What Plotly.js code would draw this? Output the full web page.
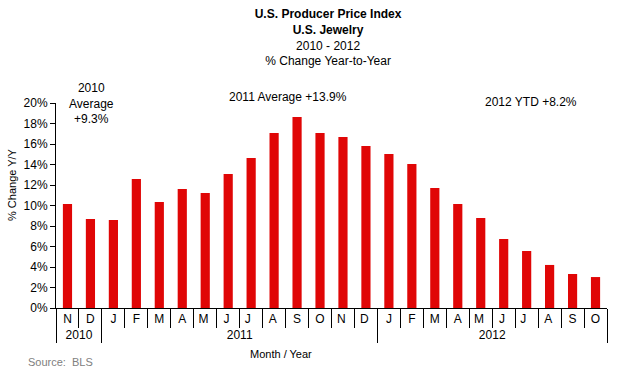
<!DOCTYPE html>
<html>
<head>
<meta charset="utf-8">
<script src="https://cdn.plot.ly/plotly-3.0.1.min.js"></script>
<style>html,body{margin:0;padding:0;background:#fff;}#chart{width:619px;height:369px;}</style>
</head>
<body>
<div id="chart"></div>
<script>
var years = ["2010","2010","2011","2011","2011","2011","2011","2011","2011","2011","2011","2011","2011","2011","2012","2012","2012","2012","2012","2012","2012","2012","2012","2012"];
var months = ["N","D","J","F","M","A","M ","J ","J  ","A ","S","O","N ","D ","J","F","M","A","M ","J ","J  ","A ","S","O"];
var changePct = [10.15, 8.68, 8.59, 12.59, 10.34, 11.61, 11.22, 13.07, 14.63, 17.07, 18.63, 17.07, 16.68, 15.80, 15.02, 14.05, 11.71, 10.15, 8.78, 6.73, 5.56, 4.20, 3.32, 3.02];
var yTicks = [0,2,4,6,8,10,12,14,16,18,20];
var yTickText = yTicks.map(function(v){return v + "%";});

var font = "Liberation Sans, Arial, sans-serif";
var data = [{
  type: "bar",
  x: [years, months],
  y: changePct,
  marker: {color: "#E00606"},
  width: 0.4,
  hoverinfo: "y"
}];
var layout = {
  width: 619, height: 369,
  margin: {l: 56, r: 12, t: 103, b: 61, pad: 0},
  paper_bgcolor: "#fff", plot_bgcolor: "#fff",
  font: {family: font, size: 12, color: "#000"},
  showlegend: false,
  title: {
    text: "<b>U.S. Producer Price Index</b><br><b>U.S. Jewelry</b><br>2010 - 2012<br>% Change Year-to-Year",
    x: 0.53, xanchor: "center", yref: "container", y: 0.95, yanchor: "top",
    font: {family: font, size: 12, color: "#000"}
  },
  xaxis: {
    type: "multicategory",
    tickangle: 0,
    showline: true, linecolor: "#000", linewidth: 1,
    ticks: "outside", tickson: "boundaries", ticklen: 19, tickcolor: "#000", tickwidth: 1,
    showdividers: true, dividercolor: "#000", dividerwidth: 1,
    showgrid: false, zeroline: false,
    tickfont: {family: font, size: 12, color: "#000"}
  },
  yaxis: {
    range: [0, 20],
    tickvals: yTicks, ticktext: yTickText,
    showline: true, linecolor: "#000", linewidth: 1,
    ticks: "outside", ticklen: 5, tickcolor: "#000",
    showgrid: false, zeroline: false,
    tickfont: {family: font, size: 12, color: "#000"}
  },
  annotations: [
    {text: "2010<br>Average<br>+9.3%", xref: "paper", yref: "paper", x: (91-56)/551, y: (308-103)/205, xanchor: "center", yanchor: "middle", showarrow: false, font: {size: 12}, align: "center"},
    {text: "2011 Average +13.9%", xref: "paper", yref: "paper", x: (288-56)/551, y: (308-97)/205, xanchor: "center", yanchor: "middle", showarrow: false, font: {size: 12}},
    {text: "2012 YTD +8.2%", xref: "paper", yref: "paper", x: (531-56)/551, y: (308-102)/205, xanchor: "center", yanchor: "middle", showarrow: false, font: {size: 12}},
    {text: "% Change Y/Y", xref: "paper", yref: "paper", x: (12-56)/551, y: (308-185)/205, xanchor: "center", yanchor: "middle", textangle: -90, showarrow: false, font: {size: 11}},
    {text: "Month / Year", xref: "paper", yref: "paper", x: (281-56)/551, y: (308-354)/205, xanchor: "center", yanchor: "middle", showarrow: false, font: {size: 11}},
    {text: "Source:  BLS", xref: "paper", yref: "paper", x: (26-56)/551, y: (308-362)/205, xanchor: "left", yanchor: "middle", showarrow: false, font: {size: 11, color: "#808080"}}
  ]
};
Plotly.newPlot("chart", data, layout, {displayModeBar: false, staticPlot: true});
</script>
</body>
</html>
